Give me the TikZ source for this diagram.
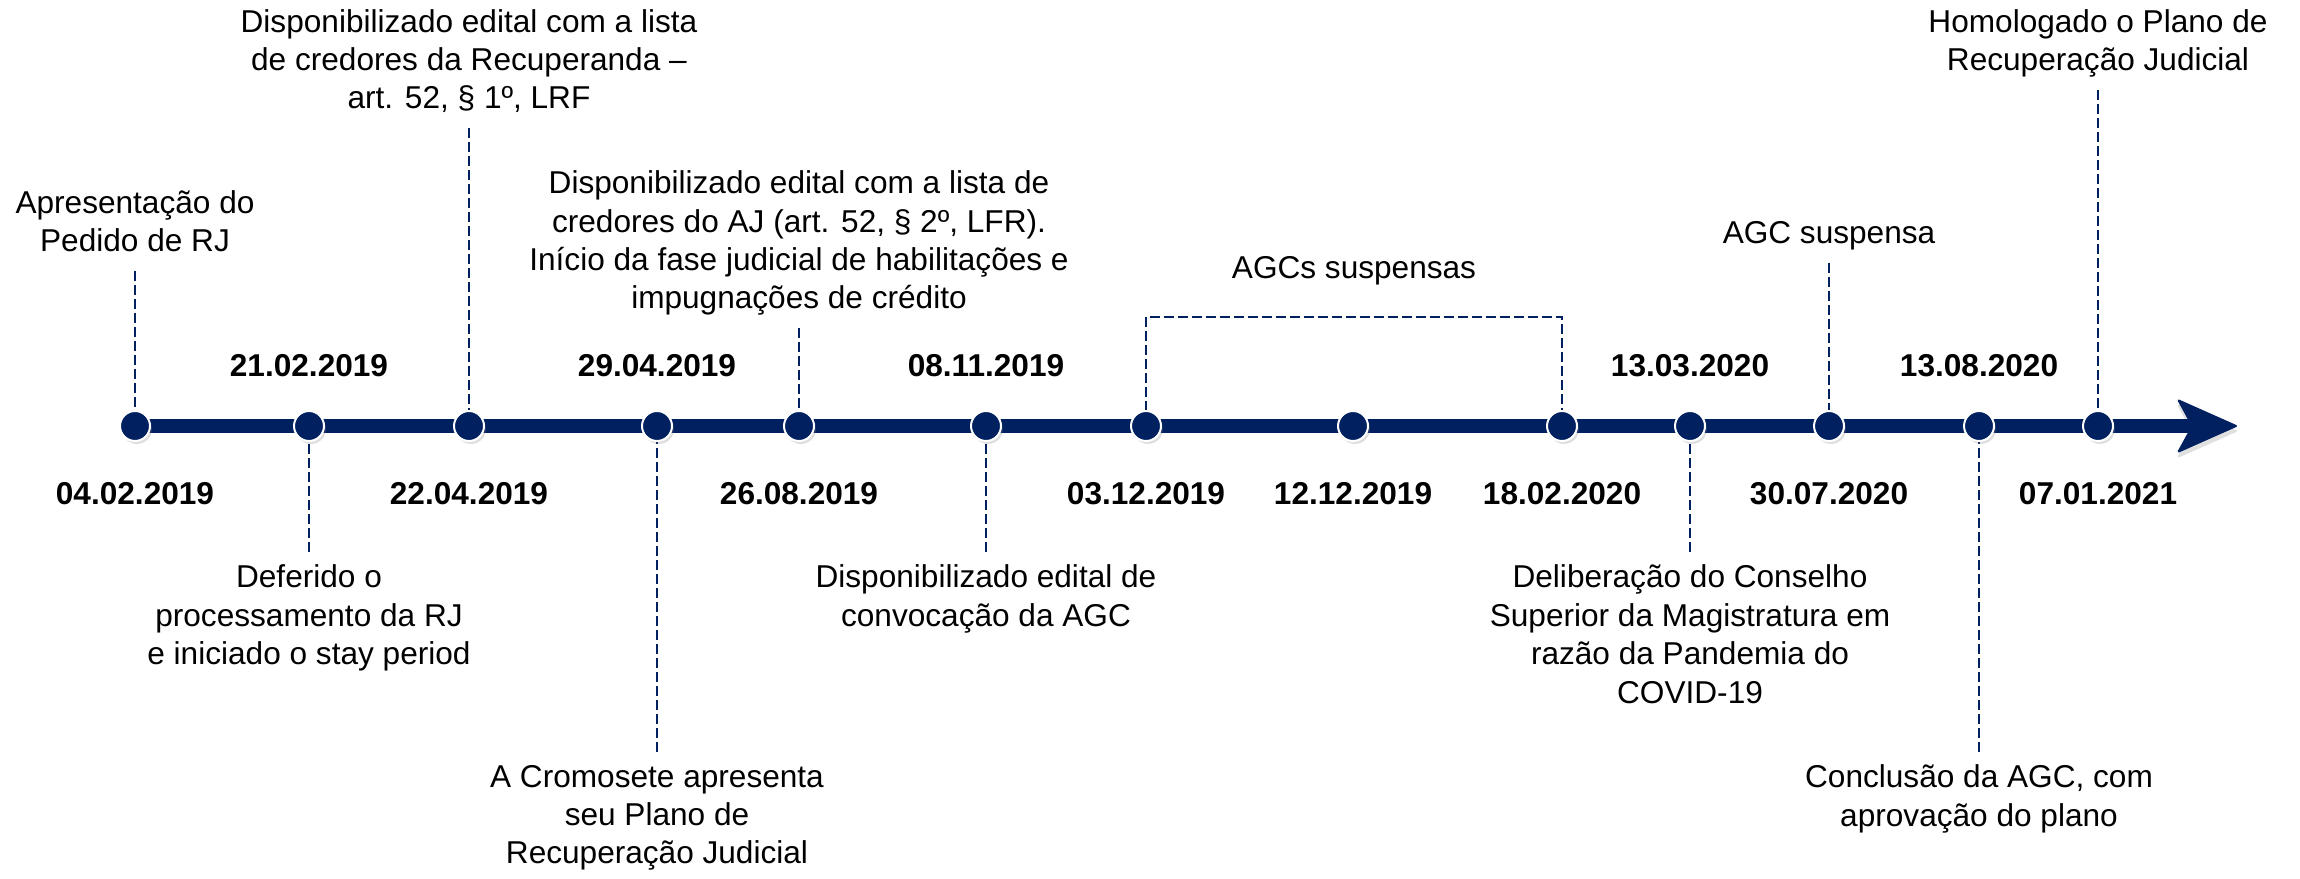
\documentclass[tikz,border=0pt]{standalone}
\usepackage{fontspec}
\setmainfont{Liberation Sans}
\usetikzlibrary{positioning, arrows.meta, shadows, backgrounds}
\definecolor{navy}{HTML}{002060}

\tikzset{
  milestone/.style={circle, fill=navy, draw=white, line width=1pt, minimum size=15pt,
    inner sep=0pt, outer sep=0pt,
    drop shadow={shadow xshift=1pt, shadow yshift=-1.5pt, opacity=0.25}},
  datelabel/.style={font=\fontsize{15.8}{19.2}\selectfont\bfseries, inner sep=0pt,
    text height=11.3pt, text depth=0pt},
  note/.style={font=\fontsize{15.8}{19.2}\selectfont, align=center, inner sep=0pt,
    execute at begin node=\strut, execute at end node=\strut},
  top note/.style={note, outer sep=3.75pt},
  bottom note/.style={note, outer sep=6.5pt},
  guide/.style={draw=navy, line width=1.15pt, dash pattern=on 5pt off 2pt},
  spine/.style={draw=navy, line width=7pt,
    -{Stealth[length=31pt, width=27.5pt, inset=7.5pt, line width=1pt, round]},
    preaction={draw=black!12, transform canvas={yshift=-2.5pt}}}
}

\begin{document}
\begin{tikzpicture}[x=0.5pt, y=0.5pt]
  \useasboundingbox (0,0) rectangle (2300,878);

  % Milestones
  \node[milestone] (c1) at (135,452) {};
  \node[milestone] (c2) at (309,452) {};
  \node[milestone] (c3) at (469,452) {};
  \node[milestone] (c4) at (657,452) {};
  \node[milestone] (c5) at (799,452) {};
  \node[milestone] (c6) at (986,452) {};
  \node[milestone] (c7) at (1146,452) {};
  \node[milestone] (c8) at (1353,452) {};
  \node[milestone] (c9) at (1562,452) {};
  \node[milestone] (c10) at (1690,452) {};
  \node[milestone] (c11) at (1829,452) {};
  \node[milestone] (c12) at (1979,452) {};
  \node[milestone] (c13) at (2098,452) {};
  \coordinate (tip) at (2237,452);

  % Dates
  \node[datelabel, below=20.3pt of c1] (d1) {04.02.2019};
  \node[datelabel, above=17.2pt of c2] (d2) {21.02.2019};
  \node[datelabel, below=20.3pt of c3] (d3) {22.04.2019};
  \node[datelabel, above=17.2pt of c4] (d4) {29.04.2019};
  \node[datelabel, below=20.3pt of c5] (d5) {26.08.2019};
  \node[datelabel, above=17.2pt of c6] (d6) {08.11.2019};
  \node[datelabel, below=20.3pt of c7] (d7) {03.12.2019};
  \node[datelabel, below=20.3pt of c8] (d8) {12.12.2019};
  \node[datelabel, below=20.3pt of c9] (d9) {18.02.2020};
  \node[datelabel, above=17.2pt of c10] (d10) {13.03.2020};
  \node[datelabel, below=20.3pt of c11] (d11) {30.07.2020};
  \node[datelabel, above=17.2pt of c12] (d12) {13.08.2020};
  \node[datelabel, below=20.3pt of c13] (d13) {07.01.2021};

  % Events above the line
  \node[top note, above=70pt of c1] (pedido) {Apresentação do\\Pedido de RJ};
  \node[top note, above=141.5pt of c3] (listarec) {Disponibilizado edital com a lista\\de credores da Recuperanda –\\art. 52, § 1º, LRF};
  \node[top note, above=41.5pt of c5] (listaaj) {Disponibilizado edital com a lista de\\credores do AJ (art. 52, § 2º, LFR).\\Início da fase judicial de habilitações e\\impugnações de crédito};
  \node[top note, above=74pt of c11] (suspensa) {AGC suspensa};
  \node[top note, above=160.5pt of c13] (homolog) {Homologado o Plano de\\Recuperação Judicial};

  % Events below the line
  \node[bottom note, below=55.5pt of c2] (deferido) {Deferido o\\processamento da RJ\\e iniciado o stay period};
  \node[bottom note, below=155.5pt of c4] (plano) {A Cromosete apresenta\\seu Plano de\\Recuperação Judicial};
  \node[bottom note, below=55.5pt of c6] (convoc) {Disponibilizado edital de\\convocação da AGC};
  \node[bottom note, below=55.5pt of c10] (delib) {Deliberação do Conselho\\Superior da Magistratura em\\razão da Pandemia do\\COVID-19};
  \node[bottom note, below=155.5pt of c12] (conclusao) {Conclusão da AGC, com\\aprovação do plano};

  % Bracket over the suspended AGCs
  \coordinate[above=47.15pt of c7.north] (brkl);
  \coordinate (brkr) at (brkl -| c9);
  \path (brkl) -- (brkr) coordinate[midway] (brkm);
  \node[top note, above=9.35pt of brkm] (suspensas) {AGCs suspensas};

  \begin{pgfonlayer}{background}
    % Timeline
    \draw[spine] (c1.center) -- (tip);

    % Dashed guides
    \draw[guide] (pedido.south) -- (c1.north);
    \draw[guide] (listarec.south) -- (c3.north);
    \draw[guide] (listaaj.south) -- (c5.north);
    \draw[guide] (suspensa.south) -- (c11.north);
    \draw[guide] (homolog.south) -- (c13.north);
    \draw[guide] (deferido.north) -- (c2.south);
    \draw[guide] (plano.north) -- (c4.south);
    \draw[guide] (convoc.north) -- (c6.south);
    \draw[guide] (delib.north) -- (c10.south);
    \draw[guide] (conclusao.north) -- (c12.south);
    \draw[guide] (c7.north) -- (brkl) -- (brkr) -- (c9.north);
  \end{pgfonlayer}
\end{tikzpicture}
\end{document}
